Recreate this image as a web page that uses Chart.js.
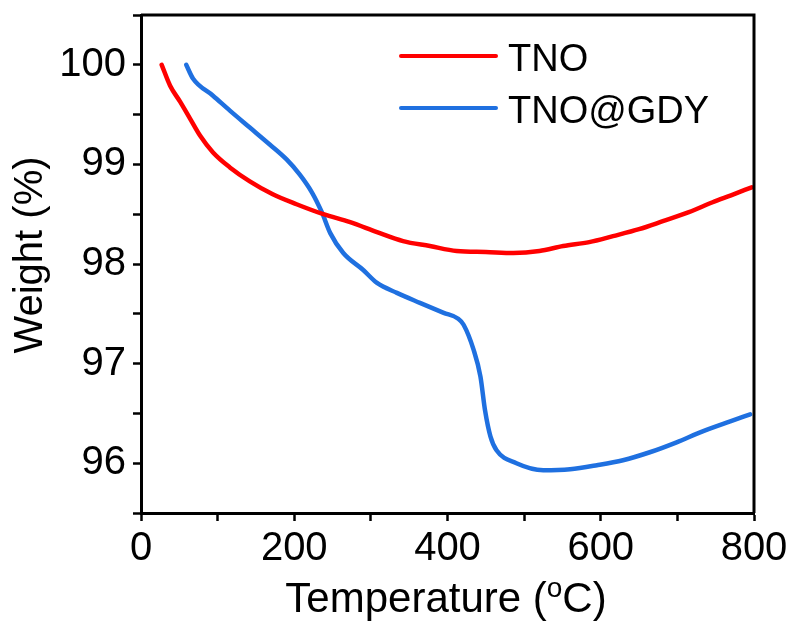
<!DOCTYPE html>
<html>
<head>
<meta charset="utf-8">
<script src="https://cdn.jsdelivr.net/npm/chart.js@4/dist/chart.umd.min.js"></script>
<style>
  html, body { margin: 0; padding: 0; background: #fff; }
</style>
</head>
<body>
<canvas id="chart" width="793" height="624"></canvas>
<script>
// TGA curves (temperature in °C, weight in %)
let tnoTemp = [27, 38, 51, 64, 77, 94, 116, 142, 172, 203, 238, 273, 308, 342, 377, 412, 450, 486, 520, 551, 585, 616, 650, 681, 715, 746, 770, 797];
let tnoWeight = [100.0, 99.79, 99.63, 99.46, 99.29, 99.12, 98.97, 98.83, 98.70, 98.60, 98.50, 98.42, 98.32, 98.23, 98.18, 98.13, 98.12, 98.11, 98.13, 98.18, 98.22, 98.28, 98.35, 98.43, 98.52, 98.62, 98.69, 98.77];

let gdyTemp = [59, 68, 94, 116, 142, 168, 190, 207, 223, 236, 247, 264, 290, 308, 334, 364, 395, 414, 421, 434, 443, 449, 456, 464, 490, 525, 560, 595, 629, 664, 699, 733, 769, 795];
let gdyWeight = [100.0, 99.86, 99.69, 99.54, 99.37, 99.20, 99.05, 98.90, 98.72, 98.52, 98.31, 98.11, 97.94, 97.81, 97.71, 97.61, 97.51, 97.45, 97.39, 97.14, 96.87, 96.53, 96.27, 96.13, 96.00, 95.93, 95.94, 95.98, 96.03, 96.11, 96.21, 96.32, 96.42, 96.49];

let seriesNames = ["TNO", "TNO@GDY"];
let seriesColors = ["#ff0000", "#1f70e0"];

let xTicks = [0, 200, 400, 600, 800];
let yTicks = [96, 97, 98, 99, 100];

function toPoints(xs, ys){
  return xs.map((x,i)=>({x:x, y:ys[i]}));
}

// box on top/right, axis titles and legend
const extras = {
  id: "extras",
  afterDraw(chart){
    let ctx = chart.ctx;
    let a = chart.chartArea;
    ctx.save();
    ctx.strokeStyle = "#000";
    ctx.lineWidth = 3;
    ctx.beginPath();
    ctx.moveTo(a.left, a.top);
    ctx.lineTo(a.right, a.top);
    ctx.lineTo(a.right, a.bottom);
    ctx.stroke();

    ctx.fillStyle = "#000";
    // x title with superscript o
    let big = "42px 'Liberation Sans', Arial, sans-serif";
    let small = "28px 'Liberation Sans', Arial, sans-serif";
    let p1 = "Temperature (", p2 = "C)";
    ctx.font = big;
    let w1 = ctx.measureText(p1).width, w3 = ctx.measureText(p2).width;
    ctx.font = small;
    let w2 = ctx.measureText("o").width;
    let x0 = 446 - (w1 + w2 + w3)/2;
    ctx.textBaseline = "alphabetic";
    ctx.textAlign = "left";
    ctx.font = big;
    ctx.fillText(p1, x0, 612);
    ctx.font = small;
    ctx.fillText("o", x0 + w1, 597);
    ctx.font = big;
    ctx.fillText(p2, x0 + w1 + w2, 612);

    // y title
    ctx.save();
    ctx.translate(42, 255);
    ctx.rotate(-Math.PI/2);
    ctx.textAlign = "center";
    ctx.font = "40px 'Liberation Sans', Arial, sans-serif";
    ctx.fillText("Weight (%)", 0, 0);
    ctx.restore();

    // legend
    ctx.font = "38px 'Liberation Sans', Arial, sans-serif";
    ctx.lineCap = "round";
    ctx.lineWidth = 4;
    chart.data.datasets.forEach((ds,i)=>{
      let y = 56 + i*52;
      ctx.strokeStyle = ds.borderColor;
      ctx.beginPath();
      ctx.moveTo(401, y);
      ctx.lineTo(496, y);
      ctx.stroke();
      ctx.fillText(ds.label, 508, y + 15);
    });
    ctx.restore();
  }
};

new Chart(document.getElementById("chart"), {
  type: "line",
  data: {
    datasets: [
      {label: seriesNames[0], data: toPoints(tnoTemp, tnoWeight), borderColor: seriesColors[0]},
      {label: seriesNames[1], data: toPoints(gdyTemp, gdyWeight), borderColor: seriesColors[1]}
    ]
  },
  options: {
    responsive: false,
    devicePixelRatio: 1,
    animation: false,
    layout: {padding: {top: 15, right: 39, left: 0, bottom: 0}},
    elements: {
      point: {radius: 0},
      line: {borderWidth: 4.5, cubicInterpolationMode: "monotone", borderCapStyle: "round"}
    },
    plugins: {legend: {display: false}, tooltip: {enabled: false}},
    scales: {
      x: {
        type: "linear",
        min: 0, max: 800,
        afterFit: s => { s.height = 111; s.paddingLeft = 0; s.paddingRight = 0; },
        afterBuildTicks: s => { s.ticks = [0,100,200,300,400,500,600,700,800].map(v=>({value:v})); },
        ticks: {
          autoSkip: false, maxRotation: 0, padding: 4,
          color: "#000",
          font: {family: "'Liberation Sans', Arial, sans-serif", size: 40},
          callback: v => xTicks.includes(v) ? String(v) : ""
        },
        grid: {drawOnChartArea: false, drawTicks: true, tickLength: 8, tickWidth: 2.5, color: "#000"},
        border: {color: "#000", width: 3}
      },
      y: {
        min: 95.5, max: 100.5,
        afterFit: s => { s.width = 141; s.paddingTop = 0; s.paddingBottom = 0; },
        afterBuildTicks: s => { s.ticks = [95.5,96,96.5,97,97.5,98,98.5,99,99.5,100,100.5].map(v=>({value:v})); },
        ticks: {
          autoSkip: false, padding: 7,
          color: "#000",
          font: {family: "'Liberation Sans', Arial, sans-serif", size: 40},
          callback: v => yTicks.includes(v) ? String(v) : ""
        },
        grid: {drawOnChartArea: false, drawTicks: true, tickLength: 8, tickWidth: 2.5, color: "#000"},
        border: {color: "#000", width: 3}
      }
    }
  },
  plugins: [extras]
});
</script>
</body>
</html>
